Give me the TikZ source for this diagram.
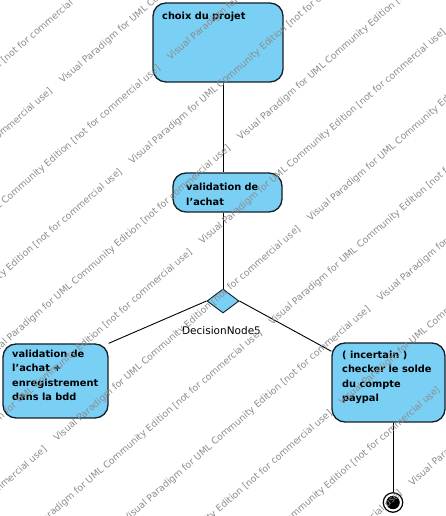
\documentclass[tikz,border=0pt]{standalone}
\usepackage{fontspec}
\setmainfont{DejaVu Sans}
\usetikzlibrary{shapes.geometric}
\definecolor{actfill}{RGB}{122,207,245}
\definecolor{actline}{RGB}{20,30,40}
\begin{document}
\begin{tikzpicture}[x=1pt,y=1pt,
  actbox/.style={draw=actline, fill=actfill, line width=1.3pt, rounded corners=13pt, inner sep=0pt},
  acttext/.style={anchor=north west, inner sep=0pt, align=left, font=\fontsize{9.8}{14.5}\selectfont\bfseries},
  flow/.style={draw=black, line width=0.9pt},
  wm/.style={anchor=base west, inner sep=0pt, rotate=41, text=black!45, font=\fontsize{9.3}{11}\selectfont}]
\useasboundingbox (0,0) rectangle (446,516);
\fill[white] (0,0) rectangle (446,516);

% activities
\node[actbox, minimum width=130, minimum height=79] (choix) at (218,473.5) {};
\node[actbox, minimum width=109, minimum height=39] (valid) at (227.5,323.5) {};
\node[diamond, draw=actline, fill=actfill, line width=0.9pt, minimum width=32, minimum height=24, inner sep=0pt] (dec) at (223,215) {};
\node[actbox, minimum width=105, minimum height=74] (left) at (55.5,135) {};
\node[actbox, minimum width=113, minimum height=79] (right) at (388.5,133.5) {};

% final node
\node[circle, draw=black, line width=1.2pt, fill=white, minimum size=19.5, inner sep=0pt] (final) at (393,13.5) {};
\node[circle, fill=black, minimum size=13.5, inner sep=0pt] (finaldot) at (final) {};

% texts
\node[acttext] (choixt) at (162,504.4) {choix du projet};
\node[acttext] (validt) at (186,333) {validation de\\l'achat};
\node[acttext] (leftt) at (12,166.5) {validation de\\l'achat +\\enregistrement\\dans la bdd};
\node[acttext] (rightt) at (342,165.2) {( incertain )\\checker le solde\\du compte\\paypal};
\node[anchor=base, inner sep=0pt, font=\fontsize{10.5}{12}\selectfont] (declabel) at (221.5,181.7) {DecisionNode5};

% flows
\draw[flow] (dec.north |- choix.south) -- (dec.north |- valid.north);
\draw[flow] (dec.north |- valid.south) -- (dec.north);
\draw[flow] (dec.west) -- (left.north east);
\draw[flow] (dec.east) -- (right);
\draw[flow] (right.south -| final) -- (final);

% edition watermark
\begin{scope}
\clip (0,0) rectangle (446,516);
\foreach \k in {-1,...,13} {
  \pgfmathsetmacro{\st}{isodd(\k) ? -8 : 89}
  \pgfmathsetmacro{\pe}{51 + 53.3*\k}
  \foreach \m in {-2,...,2} {
    \pgfmathsetmacro{\al}{\st + 336*\m}
    \node[wm] (wm-\k-\m) at ({\al*0.7547 + \pe*0.6561}, {516 + \al*0.6561 - \pe*0.7547})
      {Visual Paradigm for UML Community Edition [not for commercial use]};
  }
}
\end{scope}
\end{tikzpicture}
\end{document}
